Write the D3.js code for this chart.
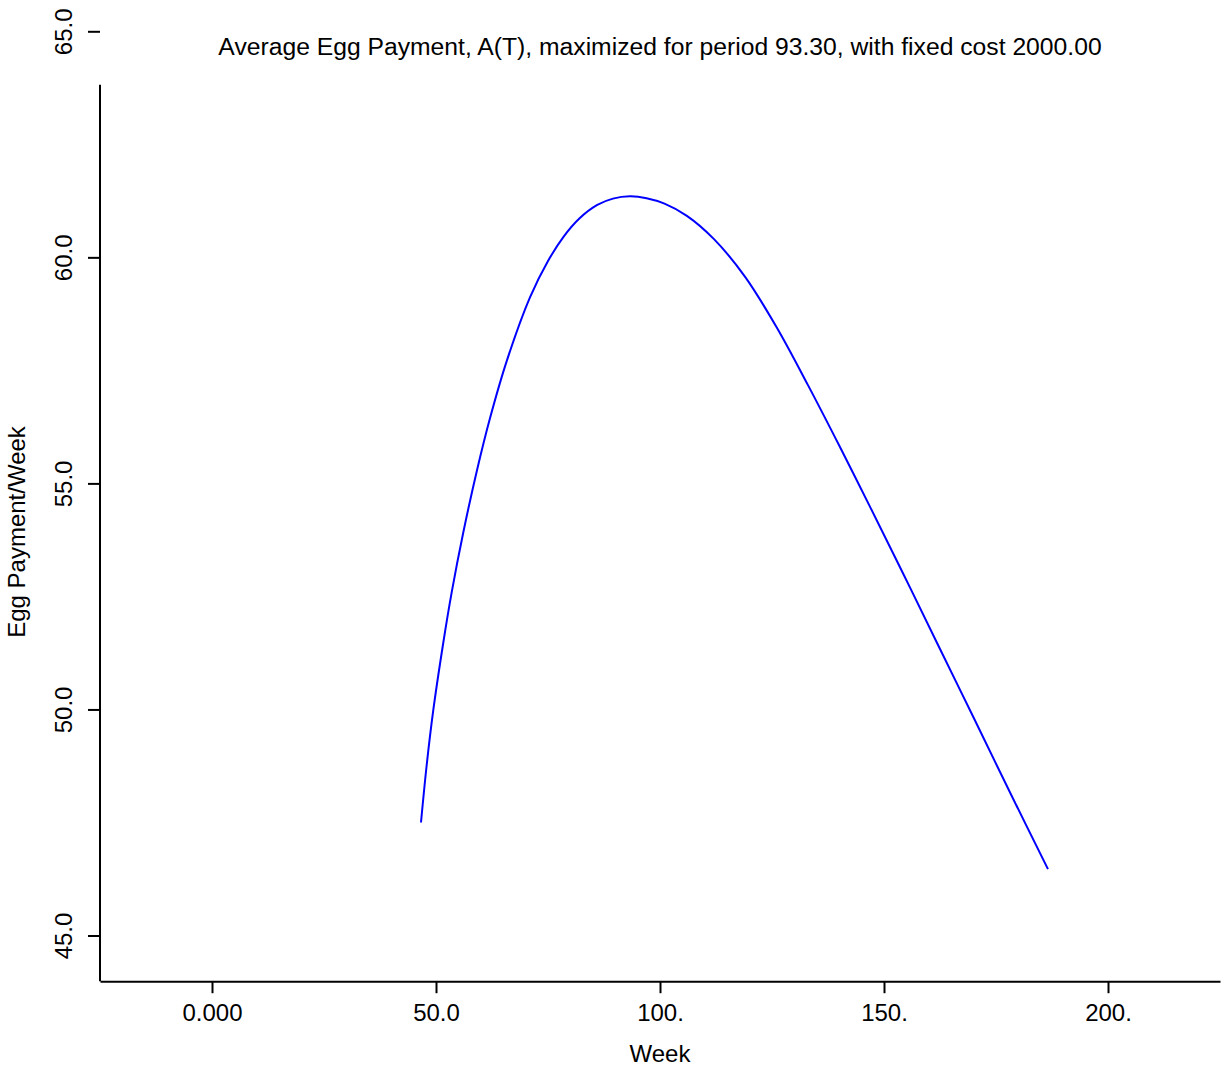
<!DOCTYPE html>
<html>
<head>
<meta charset="utf-8">
<script src="https://cdn.jsdelivr.net/npm/d3@7"></script>
<style>
  html, body { margin: 0; padding: 0; background: #ffffff; }
  svg { display: block; font-family: "Liberation Sans", Arial, Helvetica, sans-serif; }
</style>
</head>
<body>
<svg id="chart" width="1225" height="1070"></svg>
<script>
// Average payment per week A(T) against the length of the period T (weeks)
const weeks = [46.65, 47.9, 49.4, 51.6, 53.5, 56.1, 59.1, 62.05, 65.8, 71.0,
               75.0, 78.5, 82.0, 86.0, 89.5, 93.3, 97.0, 101.0, 106.0, 112.0,
               119.0, 126.0, 133.0, 140.2, 147.0, 154.4, 161.9, 170.1, 178.3, 186.6];
const payment = [47.51, 48.76, 50.00, 51.47, 52.60, 53.93, 55.28, 56.45, 57.72, 59.13,
                 59.93, 60.47, 60.87, 61.17, 61.31, 61.36, 61.32, 61.20, 60.93, 60.42,
                 59.58, 58.47, 57.19, 55.81, 54.47, 52.99, 51.47, 49.81, 48.14, 46.48];

const xTicks = [0, 50, 100, 150, 200];
const xTickLabels = ["0.000", "50.0", "100.", "150.", "200."];
const yTicks = [45, 50, 55, 60, 65];
const yTickLabels = ["45.0", "50.0", "55.0", "60.0", "65.0"];

const title = "Average Egg Payment, A(T), maximized for period 93.30, with fixed cost 2000.00";
const xTitle = "Week";
const yTitle = "Egg Payment/Week";

const svg = d3.select("#chart");
const fontSize = 24;

const x = d3.scaleLinear().domain([-25, 225]).range([100, 1220]);
const y = d3.scaleLinear().domain([44, 65]).range([981.2, 31.8]);
const yAxisTop = 63.83;

// X axis
const xAxis = d3.axisBottom(x)
  .tickValues(xTicks)
  .tickFormat((d, i) => xTickLabels[i])
  .tickSize(12)
  .tickPadding(11)
  .tickSizeOuter(0);

const gx = svg.append("g")
  .attr("transform", `translate(0,${y(44)})`)
  .call(xAxis);
gx.select(".domain").attr("stroke", "#000").attr("stroke-width", 2);
gx.selectAll(".tick line").attr("stroke", "#000").attr("stroke-width", 2);
gx.selectAll(".tick text")
  .attr("fill", "#000")
  .style("font-size", fontSize + "px")
  .style("font-family", "Liberation Sans, Arial, sans-serif");

// Y axis: line stops short of the top tick
const axisX = x(-25);
svg.append("line")
  .attr("x1", axisX).attr("x2", axisX)
  .attr("y1", y(44)).attr("y2", y(yAxisTop))
  .attr("stroke", "#000").attr("stroke-width", 2);

const gy = svg.append("g");
gy.selectAll("line.tick")
  .data(yTicks)
  .join("line")
  .attr("class", "tick")
  .attr("x1", axisX - 12).attr("x2", axisX)
  .attr("y1", d => y(d)).attr("y2", d => y(d))
  .attr("stroke", "#000").attr("stroke-width", 2);

gy.selectAll("text.ticklabel")
  .data(yTicks)
  .join("text")
  .attr("class", "ticklabel")
  .attr("transform", d => `translate(${axisX - 28},${y(d)}) rotate(-90)`)
  .attr("text-anchor", "middle")
  .style("font-size", fontSize + "px")
  .attr("fill", "#000")
  .text((d, i) => yTickLabels[i]);

// Curve
const line = d3.line()
  .x((d, i) => x(weeks[i]))
  .y((d, i) => y(payment[i]))
  .curve(d3.curveCatmullRom.alpha(0.5));

svg.append("path")
  .datum(weeks)
  .attr("d", line)
  .attr("fill", "none")
  .attr("stroke", "#0000ff")
  .attr("stroke-width", 2);

// Titles
svg.append("text")
  .attr("x", 660).attr("y", 55)
  .attr("text-anchor", "middle")
  .style("font-size", "24.7px")
  .attr("fill", "#000")
  .text(title);

svg.append("text")
  .attr("x", 660).attr("y", 1062)
  .attr("text-anchor", "middle")
  .style("font-size", fontSize + "px")
  .attr("fill", "#000")
  .text(xTitle);

svg.append("text")
  .attr("transform", `translate(25,532) rotate(-90)`)
  .attr("text-anchor", "middle")
  .style("font-size", fontSize + "px")
  .attr("fill", "#000")
  .text(yTitle);
</script>
</body>
</html>
